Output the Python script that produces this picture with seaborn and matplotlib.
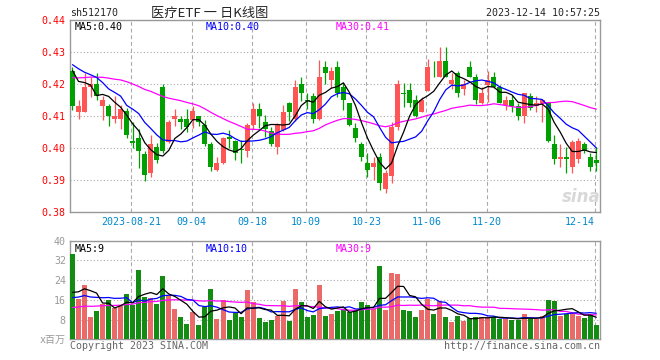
import numpy as np
import pandas as pd
import matplotlib
matplotlib.use('Agg')
import matplotlib.pyplot as plt
import seaborn as sns

# trading days 2023-08-07 .. 2023-12-14 (National Day holiday removed)
holidays = ['2023-09-29', '2023-10-02', '2023-10-03', '2023-10-04', '2023-10-05', '2023-10-06']
days = pd.bdate_range('2023-08-07', '2023-12-14').drop(pd.to_datetime(holidays))

# daily OHLC
open_ = [0.4242, 0.4115, 0.4114, 0.4193, 0.4202, 0.4133, 0.4132, 0.4093, 0.4093, 0.4115,
         0.4023, 0.4033, 0.3982, 0.3924, 0.4005, 0.4192, 0.4021, 0.4093, 0.4092, 0.4092,
         0.4088, 0.4101, 0.4073, 0.4013, 0.3932, 0.3954, 0.4034, 0.4022, 0.3997, 0.3993,
         0.4072, 0.4123, 0.4082, 0.4054, 0.4005, 0.4057, 0.4143, 0.4093, 0.4202, 0.4149,
         0.4164, 0.4092, 0.4255, 0.4214, 0.4255, 0.4193, 0.4143, 0.4065, 0.4013, 0.3953,
         0.3943, 0.3974, 0.3874, 0.3914, 0.4066, 0.4172, 0.4182, 0.4151, 0.4115, 0.4180,
         0.4242, 0.4224, 0.4274, 0.4200, 0.4234, 0.4184, 0.4253, 0.4222, 0.4143, 0.4198,
         0.4224, 0.4193, 0.4135, 0.4151, 0.4133, 0.4101, 0.4164, 0.4132, 0.4143, 0.4143,
         0.4013, 0.3966, 0.3974, 0.3941, 0.3966, 0.4013, 0.3974, 0.3964]
close = [0.4133, 0.4132, 0.4192, 0.4202, 0.4165, 0.4151, 0.4101, 0.4101, 0.4123, 0.4042,
         0.4015, 0.3993, 0.3915, 0.4013, 0.3965, 0.3993, 0.4082, 0.4101, 0.4083, 0.4066,
         0.4115, 0.4082, 0.4014, 0.3943, 0.3954, 0.4033, 0.4030, 0.3984, 0.3994, 0.4073,
         0.4123, 0.4101, 0.4061, 0.4014, 0.4072, 0.4115, 0.4115, 0.4192, 0.4174, 0.4148,
         0.4092, 0.4224, 0.4234, 0.4242, 0.4172, 0.4151, 0.4073, 0.4031, 0.3974, 0.3932,
         0.3953, 0.3893, 0.3924, 0.4066, 0.4200, 0.4171, 0.4143, 0.4101, 0.4151, 0.4255,
         0.4241, 0.4274, 0.4224, 0.4214, 0.4174, 0.4202, 0.4224, 0.4151, 0.4174, 0.4214,
         0.4193, 0.4143, 0.4151, 0.4133, 0.4101, 0.4174, 0.4125, 0.4141, 0.4151, 0.4023,
         0.3966, 0.3974, 0.3966, 0.4021, 0.4023, 0.3991, 0.3943, 0.3955]
high = [0.4253, 0.4151, 0.4234, 0.4222, 0.4234, 0.4165, 0.4140, 0.4164, 0.4135, 0.4125,
        0.4083, 0.4059, 0.3993, 0.4041, 0.4016, 0.4200, 0.4089, 0.4122, 0.4101, 0.4122,
        0.4132, 0.4101, 0.4089, 0.4020, 0.3974, 0.4036, 0.4057, 0.4026, 0.4026, 0.4078,
        0.4143, 0.4143, 0.4104, 0.4067, 0.4078, 0.4136, 0.4146, 0.4214, 0.4222, 0.4174,
        0.4174, 0.4276, 0.4274, 0.4255, 0.4274, 0.4205, 0.4143, 0.4078, 0.4020, 0.3984,
        0.3974, 0.3984, 0.3932, 0.4083, 0.4214, 0.4203, 0.4203, 0.4167, 0.4161, 0.4278,
        0.4274, 0.4318, 0.4318, 0.4234, 0.4243, 0.4214, 0.4274, 0.4232, 0.4193, 0.4243,
        0.4240, 0.4197, 0.4164, 0.4167, 0.4141, 0.4174, 0.4172, 0.4164, 0.4153, 0.4146,
        0.4042, 0.4013, 0.4005, 0.4026, 0.4031, 0.4021, 0.3984, 0.4005]
low = [0.4120, 0.4091, 0.4112, 0.4161, 0.4151, 0.4089, 0.4070, 0.4080, 0.4059, 0.4031,
       0.4000, 0.3937, 0.3899, 0.3911, 0.3953, 0.3985, 0.4016, 0.4070, 0.4059, 0.4052,
       0.4062, 0.4069, 0.4007, 0.3930, 0.3930, 0.3951, 0.4000, 0.3964, 0.3953, 0.3972,
       0.4059, 0.4064, 0.4035, 0.4007, 0.3982, 0.4055, 0.4084, 0.4086, 0.4149, 0.4122,
       0.4080, 0.4089, 0.4200, 0.4188, 0.4161, 0.4120, 0.4070, 0.4020, 0.3961, 0.3911,
       0.3901, 0.3870, 0.3861, 0.3891, 0.4057, 0.4130, 0.4130, 0.4099, 0.4112, 0.4178,
       0.4222, 0.4222, 0.4222, 0.4185, 0.4161, 0.4167, 0.4222, 0.4140, 0.4140, 0.4146,
       0.4190, 0.4141, 0.4120, 0.4115, 0.4089, 0.4080, 0.4120, 0.4115, 0.4083, 0.4021,
       0.3951, 0.3941, 0.3922, 0.3922, 0.3955, 0.3984, 0.3930, 0.3930]
# volume in millions of shares
volume = [34.7, 16.4, 22.1, 9.1, 11.5, 14.5, 15.9, 12.6, 13.6, 18.4,
          14.0, 28.2, 17.3, 16.9, 14.4, 25.7, 17.6, 12.3, 9.1, 6.4,
          11.2, 6.0, 13.0, 20.6, 8.3, 15.9, 7.9, 10.7, 9.1, 20.1,
          15.3, 8.7, 7.2, 7.9, 9.5, 15.4, 7.6, 20.5, 15.3, 9.2,
          9.9, 22.1, 9.6, 10.4, 11.5, 12.1, 11.2, 11.8, 15.2, 14.0,
          12.2, 29.8, 11.9, 27.0, 26.6, 11.9, 11.5, 9.1, 11.9, 16.5,
          10.3, 15.7, 9.1, 7.0, 9.5, 7.5, 8.7, 9.1, 9.1, 9.1,
          9.1, 8.3, 8.3, 7.9, 7.9, 10.3, 8.3, 8.3, 9.5, 16.0,
          15.6, 9.5, 10.3, 10.8, 9.5, 8.7, 9.9, 5.8]

# the 29 sessions before the window, estimated from where the MA lines start
close_before = [0.414, 0.417, 0.415, 0.418, 0.416, 0.418, 0.420, 0.419, 0.421, 0.423,
                0.422, 0.420, 0.419, 0.421, 0.423, 0.424, 0.422, 0.420, 0.423, 0.425,
                0.426, 0.430, 0.428, 0.425, 0.431, 0.430, 0.421, 0.424, 0.433]
vol_before = [10, 12, 11, 9, 10, 13, 12, 11, 10, 9, 11, 12, 10, 11, 13, 12, 10, 11, 9, 12,
              14, 16, 15, 13, 16, 15, 16, 13, 16.3]

tick_dates = ['2023-08-21', '2023-09-04', '2023-09-18', '2023-10-09',
              '2023-10-23', '2023-11-06', '2023-11-20', '2023-12-14']
tick_labels = ['2023-08-21', '09-04', '09-18', '10-09', '10-23', '11-06', '11-20', '12-14']
price_ticks = [0.38, 0.39, 0.40, 0.41, 0.42, 0.43, 0.44]
price_tick_labels = ['0.38', '0.39', '0.40', '0.41', '0.42', '0.43', '0.44']
vol_ticks = [0, 8, 16, 24, 32, 40]
vol_tick_labels = ['x百万', '8', '16', '24', '32', '40']

df = pd.DataFrame({'day': np.arange(len(close)), 'open': open_, 'close': close,
                   'high': high, 'low': low, 'volume': volume})
df['dir'] = np.where(df['close'] >= df['open'], 'up', 'down')
pc = pd.Series(close_before + close)
pv = pd.Series(vol_before + volume)
nb = len(close_before)
for n in (5, 10, 30):
    df[f'ma{n}'] = pc.rolling(n).mean().iloc[nb:].to_numpy()
    df[f'vma{n}'] = pv.rolling(n).mean().iloc[nb:].to_numpy()

RED = '#ff5555'
GREEN = '#00a000'
GRID = '#aaaaaa'
BORDER = '#999999'
MA_COLORS = {5: 'black', 10: '#0000ff', 30: '#ff00ff'}

sns.set_style('white')
plt.rcParams['font.family'] = ['DejaVu Sans Mono', 'Noto Sans CJK SC']

fig = plt.figure(figsize=(6.6, 3.6), dpi=100)
ax1 = fig.add_axes([70 / 660, (360 - 212.3) / 360, 530 / 660, 192 / 360])
ax2 = fig.add_axes([70 / 660, (360 - 339.3) / 360, 530 / 660, 98.6 / 360])
xlim = (-0.415, 87.62)

# candles
colors = np.where(df['dir'] == 'up', RED, GREEN)
ax1.vlines(df['day'], df['low'], df['high'], colors=colors, lw=0.9, zorder=2)
body = np.maximum((df['close'] - df['open']).abs(), 0.0003)
mid = (df['close'] + df['open']) / 2
ax1.bar(df['day'], body, bottom=mid - body / 2, width=0.83, color=colors,
        linewidth=0, zorder=3)
for n in (30, 10, 5):
    sns.lineplot(data=df, x='day', y=f'ma{n}', color=MA_COLORS[n], lw=0.9,
                 ax=ax1, zorder=4)

# volume
sns.barplot(data=df, x='day', y='volume', hue='dir', palette={'up': RED, 'down': GREEN},
            native_scale=True, dodge=False, width=0.83, linewidth=0, legend=False,
            ax=ax2, zorder=3)
for n in (30, 10, 5):
    sns.lineplot(data=df, x='day', y=f'vma{n}', color=MA_COLORS[n], lw=0.9,
                 ax=ax2, zorder=4)

grid_x = [int(np.where(days == pd.Timestamp(d))[0][0]) - 0.2 for d in tick_dates]

for ax in (ax1, ax2):
    ax.set_xlim(*xlim)
    ax.set_xlabel('')
    ax.set_ylabel('')
    ax.set_xticks([])
    for s in ax.spines.values():
        s.set_color(BORDER)
        s.set_linewidth(1)
    for gx in grid_x:
        ax.axvline(gx, color=GRID, lw=0.8, linestyle=(0, (3.5, 2.5)), zorder=1)
    ax.yaxis.grid(True, color=GRID, lw=0.8, linestyle=(0, (1, 2)), zorder=1)
    ax.set_axisbelow(True)

ax1.set_ylim(0.38, 0.44)
ax1.set_yticks(price_ticks)
ax1.set_yticklabels(price_tick_labels)
ax1.tick_params(axis='y', length=0, pad=3, labelcolor='red', labelsize=7.2)

ax2.set_ylim(0, 40)
ax2.set_yticks(vol_ticks)
ax2.set_yticklabels(vol_tick_labels)
ax2.tick_params(axis='y', length=0, pad=3, labelcolor=BORDER, labelsize=7.2)

# date labels under the price panel
for gx, lab in zip(grid_x, tick_labels):
    ha = 'right' if lab == tick_labels[-1] else 'center'
    ax1.text(gx, -0.052, lab, transform=ax1.get_xaxis_transform(), ha=ha, va='center',
             color='#0088cc', fontsize=7.2)

# header
fig.text(70 / 660, 1 - 13 / 360, 'sh512170', ha='left', va='center', fontsize=7.2)
fig.text(151 / 660, 1 - 13 / 360, '医疗ETF 一 日K线图', ha='left', va='center',
         fontsize=9.5, family=['Noto Sans CJK SC', 'DejaVu Sans'])
fig.text(600 / 660, 1 - 13 / 360, '2023-12-14 10:57:25', ha='right', va='center',
         fontsize=7.2)

# MA legends
for x, txt, n in [(75, 'MA5:0.40', 5), (206, 'MA10:0.40', 10), (336, 'MA30:0.41', 30)]:
    fig.text(x / 660, 1 - 27 / 360, txt, ha='left', va='center', fontsize=7.2,
             color=MA_COLORS[n])
for x, txt, n in [(75, 'MA5:9', 5), (206, 'MA10:10', 10), (336, 'MA30:9', 30)]:
    fig.text(x / 660, 1 - 249 / 360, txt, ha='left', va='center', fontsize=7.2,
             color=MA_COLORS[n])

# watermark and footer
fig.text(581 / 660, 1 - 197 / 360, 'sina', ha='center', va='center', fontsize=12,
         style='italic', weight='bold', color='#d8d8d8', family='DejaVu Sans')
fig.text(70 / 660, 1 - 346 / 360, 'Copyright 2023 SINA.COM', ha='left', va='center',
         fontsize=7.2, color='#666666')
fig.text(600 / 660, 1 - 346 / 360, 'http://finance.sina.com.cn', ha='right', va='center',
         fontsize=7.2, color='#666666')

fig.savefig('out.png', dpi=100)
